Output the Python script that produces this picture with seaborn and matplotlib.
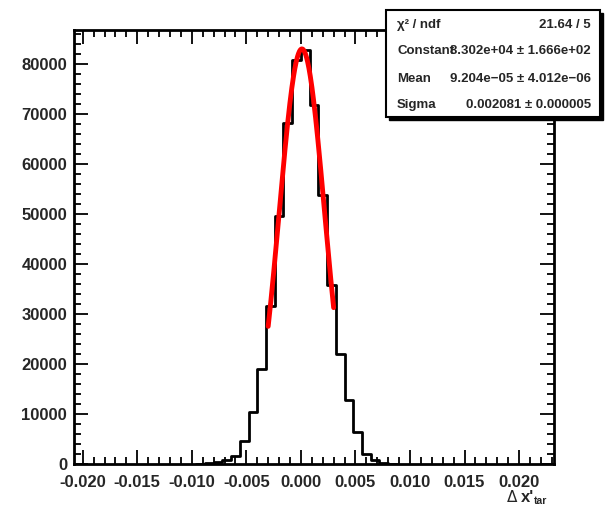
import numpy as np
import pandas as pd
import matplotlib
matplotlib.use("Agg")
import matplotlib.pyplot as plt
from matplotlib.ticker import MultipleLocator, FormatStrFormatter
from matplotlib.patches import Rectangle
import seaborn as sns

# Histogram of delta x'_tar: bin edges every 0.0008, counts per bin
bin_width = 0.0008
bin_index = [-12, -11, -10, -9, -8, -7, -6, -5, -4, -3, -2, -1,
             0, 1, 2, 3, 4, 5, 6, 7, 8, 9, 10]
counts = [100, 200, 450, 900, 1700, 4600, 10400, 19100, 31700, 49700, 68300, 80800,
          82800, 71900, 53900, 35900, 22100, 12800, 6450, 2100, 900, 300, 80]

# Gaussian fit result
fit_const = 8.302e+04
fit_mean = 9.204e-05
fit_sigma = 0.002081
fit_range = (-0.003, 0.003)
stat_labels = ["\u03c7\u00b2 / ndf", "Constant", "Mean", "Sigma"]
stat_values = ["21.64 / 5", "8.302e+04 \u00b1 1.666e+02",
               "9.204e\u221205 \u00b1 4.012e\u221206", "0.002081 \u00b1 0.000005"]

x_range = (-0.0208, 0.0232)
y_max = 86900

sns.set_theme(style="white")
plt.rcParams["font.family"] = ["Liberation Sans", "DejaVu Sans"]
plt.rcParams["font.weight"] = "bold"

W, H = 607, 505
fig = plt.figure(figsize=(W / 100, H / 100), dpi=100)
fig.patch.set_facecolor("white")
ax = fig.add_axes([74 / W, 1 - 464 / H, (554 - 74) / W, (464 - 29.5) / H])
ax.set_facecolor("white")

lo = bin_index[0] * bin_width
hi = (bin_index[-1] + 1) * bin_width
centers = (np.array(bin_index) + 0.5) * bin_width
df = pd.DataFrame({"x": centers, "n": counts})
sns.histplot(data=df, x="x", weights="n", binwidth=bin_width, binrange=(lo, hi),
             element="step", fill=False, color="black", linewidth=2, ax=ax)

xf = np.linspace(fit_range[0], fit_range[1], 200)
fit_df = pd.DataFrame({"x": xf,
                       "y": fit_const * np.exp(-0.5 * ((xf - fit_mean) / fit_sigma) ** 2)})
sns.lineplot(data=fit_df, x="x", y="y", color="#ff0000", linewidth=3.5, ax=ax)

ax.set_xlim(*x_range)
ax.set_ylim(0, y_max)
ax.set_xlabel("")
ax.set_ylabel("")

ax.xaxis.set_major_locator(MultipleLocator(0.005))
ax.xaxis.set_minor_locator(MultipleLocator(0.001))
ax.xaxis.set_major_formatter(FormatStrFormatter("%.3f"))
ax.yaxis.set_major_locator(MultipleLocator(10000))
ax.yaxis.set_minor_locator(MultipleLocator(2000))
ax.tick_params(which="both", direction="in", top=True, right=True,
               bottom=True, left=True, color="black", width=1.3)
ax.tick_params(which="major", length=10, labelsize=12)
ax.tick_params(axis="x", which="major", pad=8)
ax.tick_params(axis="y", which="major", pad=5)
ax.tick_params(which="minor", length=5)
for lab in ax.get_xticklabels() + ax.get_yticklabels():
    lab.set_fontweight("bold")
for s in ax.spines.values():
    s.set_linewidth(2)
    s.set_color("black")

# axis title
fig.text(507 / W, 1 - 501.5 / H, "\u0394", fontsize=11, fontweight="normal",
         family=["DejaVu Sans"], ha="left", va="baseline")
fig.text(521 / W, 1 - 501.5 / H, "x'", fontsize=12, fontweight="bold",
         ha="left", va="baseline")
fig.text(534 / W, 1 - 504 / H, "tar", fontsize=7.5, fontweight="bold",
         ha="left", va="baseline")

# statistics box with shadow
bx0, by0, bx1, by1 = 386, 10, 600, 117
fig.patches.append(Rectangle((bx0 / W + 3 / W, 1 - (by1 + 3) / H), (bx1 - bx0) / W,
                             (by1 - by0) / H, transform=fig.transFigure,
                             facecolor="black", edgecolor="black", zorder=5))
fig.patches.append(Rectangle((bx0 / W, 1 - by1 / H), (bx1 - bx0) / W, (by1 - by0) / H,
                             transform=fig.transFigure, facecolor="white",
                             edgecolor="black", linewidth=1.5, zorder=6))
rows_y = [25, 51.5, 78.5, 105]
for lab, val, yy in zip(stat_labels, stat_values, rows_y):
    fig.text(397 / W, 1 - yy / H, lab, fontsize=9.5, fontweight="bold",
             ha="left", va="center", zorder=7)
    fig.text(591 / W, 1 - yy / H, val, fontsize=9.5, fontweight="bold",
             ha="right", va="center", zorder=7)

fig.savefig("out.png", dpi=100, facecolor="white")
